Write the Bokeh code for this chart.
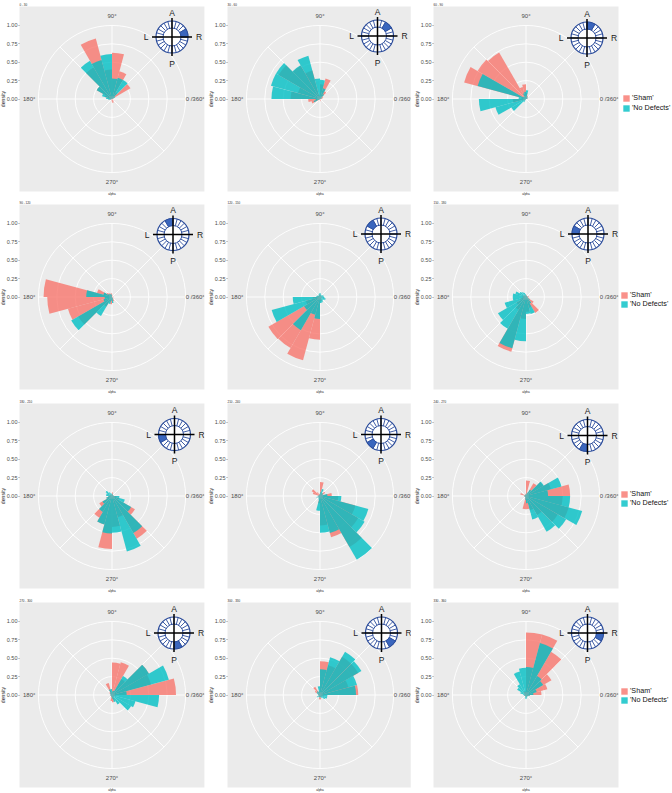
from math import cos, sin, radians
from bokeh.embed import file_html
from bokeh.resources import INLINE
from bokeh.plotting import figure
from bokeh.layouts import column, row
from bokeh.models import ColumnDataSource, FixedTicker, NumeralTickFormatter, Legend, LegendItem
from bokeh.core.properties import value

bin_starts = list(range(0, 360, 15))
panel_titles = ["0 - 30", "30 - 60", "60 - 90", "90 - 120", "120 - 150", "150 - 180",
                "180 - 210", "210 - 240", "240 - 270", "270 - 300", "300 - 330", "330 - 360"]
tick_values = [0.0, 0.25, 0.5, 0.75, 1.0]
angle_labels = ["0 /360°", "90°", "180°", "270°"]
legend_labels = ["'Sham'", "'No Defects'"]

#            0    15   30   45   60   75   90   105  120  135  150  165  180  195  210  225  240  255  270  285  300  315  330  345
sham_01 = [0.02,0.00,0.29,0.10,0.39,0.63,0.40,0.85,0.50,0.24,0.10,0.05,0.03,0.02,0.00,0.00,0.00,0.03,0.05,0.05,0.03,0.00,0.00,0.00]
nodf_01 = [0.00,0.02,0.05,0.30,0.30,0.28,0.61,0.55,0.60,0.24,0.14,0.08,0.05,0.02,0.00,0.00,0.00,0.00,0.00,0.00,0.00,0.00,0.00,0.00]
sham_02 = [0.02,0.04,0.05,0.12,0.29,0.20,0.05,0.40,0.52,0.65,0.31,0.40,0.16,0.12,0.03,0.00,0.00,0.00,0.00,0.03,0.02,0.00,0.00,0.00]
nodf_02 = [0.00,0.02,0.03,0.08,0.15,0.26,0.28,0.61,0.53,0.69,0.69,0.66,0.06,0.09,0.02,0.00,0.00,0.00,0.00,0.00,0.00,0.00,0.00,0.00]
sham_03 = [0.02,0.02,0.02,0.04,0.05,0.08,0.20,0.17,0.73,0.76,0.87,0.06,0.18,0.05,0.03,0.00,0.00,0.00,0.00,0.00,0.00,0.00,0.00,0.00]
nodf_03 = [0.02,0.02,0.02,0.03,0.04,0.12,0.10,0.08,0.04,0.05,0.68,0.10,0.64,0.43,0.23,0.05,0.00,0.00,0.00,0.00,0.00,0.00,0.00,0.00]
sham_04 = [0.02,0.00,0.00,0.00,0.00,0.03,0.05,0.05,0.06,0.08,0.21,0.93,0.88,0.62,0.53,0.15,0.08,0.10,0.05,0.06,0.03,0.00,0.00,0.02]
nodf_04 = [0.00,0.00,0.00,0.00,0.00,0.00,0.03,0.04,0.05,0.06,0.12,0.35,0.10,0.12,0.64,0.30,0.10,0.05,0.08,0.03,0.00,0.00,0.00,0.00]
sham_05 = [0.03,0.02,0.02,0.02,0.02,0.03,0.03,0.03,0.02,0.02,0.03,0.04,0.10,0.20,0.81,0.80,0.89,0.58,0.06,0.05,0.03,0.02,0.02,0.03]
nodf_05 = [0.05,0.05,0.04,0.03,0.03,0.05,0.05,0.04,0.03,0.03,0.04,0.05,0.37,0.68,0.25,0.52,0.25,0.30,0.08,0.08,0.06,0.06,0.08,0.06]
sham_06 = [0.04,0.02,0.02,0.02,0.02,0.03,0.02,0.02,0.03,0.03,0.05,0.05,0.05,0.08,0.15,0.20,0.77,0.30,0.20,0.15,0.25,0.12,0.05,0.03]
nodf_06 = [0.02,0.02,0.02,0.02,0.02,0.02,0.04,0.06,0.08,0.10,0.15,0.18,0.18,0.30,0.44,0.50,0.72,0.60,0.23,0.24,0.10,0.06,0.03,0.02]
sham_07 = [0.02,0.02,0.02,0.02,0.03,0.05,0.02,0.02,0.02,0.03,0.03,0.04,0.05,0.08,0.20,0.34,0.40,0.72,0.42,0.30,0.67,0.36,0.10,0.06]
nodf_07 = [0.02,0.02,0.02,0.02,0.02,0.03,0.03,0.04,0.06,0.10,0.08,0.08,0.05,0.08,0.15,0.25,0.40,0.51,0.50,0.78,0.58,0.30,0.18,0.10]
sham_08 = [0.16,0.05,0.08,0.05,0.03,0.19,0.03,0.03,0.06,0.13,0.10,0.03,0.02,0.02,0.02,0.03,0.03,0.10,0.40,0.58,0.80,0.60,0.50,0.25]
nodf_08 = [0.10,0.03,0.05,0.05,0.10,0.05,0.02,0.02,0.02,0.02,0.02,0.02,0.02,0.05,0.03,0.03,0.05,0.20,0.50,0.52,1.00,0.70,0.68,0.29]
sham_09 = [0.60,0.35,0.27,0.20,0.05,0.21,0.03,0.02,0.02,0.03,0.08,0.02,0.02,0.02,0.02,0.02,0.03,0.18,0.18,0.20,0.30,0.50,0.60,0.50]
nodf_09 = [0.30,0.50,0.28,0.10,0.05,0.02,0.02,0.02,0.02,0.02,0.02,0.02,0.02,0.02,0.02,0.02,0.02,0.05,0.10,0.33,0.56,0.63,0.79,0.60]
sham_10 = [0.87,0.55,0.58,0.25,0.46,0.44,0.04,0.17,0.05,0.04,0.02,0.02,0.02,0.02,0.02,0.02,0.03,0.08,0.10,0.08,0.04,0.03,0.03,0.05]
nodf_10 = [0.20,0.80,0.58,0.30,0.06,0.05,0.08,0.08,0.04,0.03,0.02,0.02,0.02,0.02,0.02,0.02,0.02,0.03,0.05,0.10,0.15,0.30,0.33,0.64]
sham_11 = [0.52,0.40,0.60,0.60,0.42,0.46,0.05,0.05,0.13,0.08,0.03,0.02,0.02,0.02,0.02,0.03,0.03,0.06,0.06,0.03,0.03,0.03,0.04,0.05]
nodf_11 = [0.49,0.52,0.65,0.68,0.53,0.35,0.12,0.05,0.06,0.05,0.03,0.03,0.02,0.02,0.05,0.03,0.03,0.03,0.03,0.03,0.05,0.08,0.10,0.10]
sham_12 = [0.21,0.30,0.40,0.68,0.85,0.85,0.05,0.05,0.05,0.03,0.02,0.02,0.02,0.02,0.02,0.02,0.02,0.03,0.03,0.02,0.02,0.02,0.03,0.05]
nodf_12 = [0.10,0.15,0.27,0.30,0.73,0.38,0.37,0.33,0.17,0.14,0.08,0.04,0.03,0.03,0.02,0.02,0.02,0.05,0.05,0.03,0.03,0.03,0.03,0.05]

sham_all = [sham_01, sham_02, sham_03, sham_04, sham_05, sham_06, sham_07, sham_08, sham_09, sham_10, sham_11, sham_12]
nodf_all = [nodf_01, nodf_02, nodf_03, nodf_04, nodf_05, nodf_06, nodf_07, nodf_08, nodf_09, nodf_10, nodf_11, nodf_12]

PX = 73.6          # screen pixels per density unit
HALF = 92.5 / PX
FRAME = 185
SHAM, NODF = "#F8766D", "#00BFC4"
INK = "#4D4D4D"
FONT = value("Liberation Sans")

compass_dx = [60, 57.5, 61, 61, 61, 62, 62.5, 61, 61.5, 62, 61.5, 61.5]
compass_dy = [62, 63, 61, 62.5, 63, 63, 61.5, 61.5, 60.5, 62, 62, 62]
LEFT, SHIFT = 23, 4
col_right = [4, 2, 54]
row_top = [6, 6, 7, 7]
row_bottom = [7, 7, 6, 7]
legend_y = [79, 81, 81, 83]
legend_x = [4, 2, 2, 2]
legend_gap = [1, 0, 0, 0]


def rose(p, values, color):
    src = ColumnDataSource(dict(
        r=[v for v in values if v > 0],
        a0=[b for b, v in zip(bin_starts, values) if v > 0],
        a1=[b + 15 for b, v in zip(bin_starts, values) if v > 0],
    ))
    return p.wedge(x=0, y=0, radius="r", start_angle="a0", end_angle="a1",
                   start_angle_units="deg", end_angle_units="deg", source=src,
                   fill_color=color, fill_alpha=0.8, line_color=None)


def compass(p, idx, dx, dy):
    cx, cy = dx / PX, dy / PX
    ro, ri = 16 / PX, 9 / PX
    blue = "#2B4C9B"
    p.circle(x=[cx], y=[cy], radius=ro, fill_color="white", line_color=blue, line_width=1.2)
    xs0 = [cx + ri * cos(radians(a)) for a in bin_starts]
    ys0 = [cy + ri * sin(radians(a)) for a in bin_starts]
    xs1 = [cx + ro * cos(radians(a)) for a in bin_starts]
    ys1 = [cy + ro * sin(radians(a)) for a in bin_starts]
    p.segment(xs0, ys0, xs1, ys1, line_color=blue, line_width=0.9)
    p.circle(x=[cx], y=[cy], radius=ri, fill_color="white", line_color=blue, line_width=1.0)
    p.annular_wedge(x=[cx], y=[cy], inner_radius=ri, outer_radius=ro,
                    start_angle=idx * 30, end_angle=(idx + 1) * 30,
                    start_angle_units="deg", end_angle_units="deg",
                    fill_color="#3A66BE", line_color=blue, line_width=0.8)
    p.segment([cx - 20 / PX, cx], [cy, cy - 19 / PX], [cx + 20 / PX, cx], [cy, cy + 19 / PX],
              line_color="black", line_width=1.5)
    p.text(x=[cx, cx, cx - 26 / PX, cx + 27 / PX], y=[cy + 24.5 / PX, cy - 26.5 / PX, cy, cy],
           text=["A", "P", "L", "R"], text_font=FONT, text_font_size="8.5px", text_color="#222222",
           text_align="center", text_baseline="middle")


def panel(idx):
    r_i, c_i = idx // 3, idx % 3
    p = figure(output_backend="svg", toolbar_location=None,
               frame_width=FRAME, frame_height=FRAME,
               x_range=(-HALF, HALF), y_range=(-HALF, HALF),
               min_border_left=LEFT, min_border_right=col_right[c_i],
               min_border_top=row_top[r_i], min_border_bottom=row_bottom[r_i],
               background_fill_color="#EBEBEB", border_fill_color="white",
               outline_line_color=None, title=panel_titles[idx],
               x_axis_label="alpha", y_axis_label="density", margin=(0, 0, 0, -SHIFT))
    p.title.text_font_size = "3px"
    p.title.text_font = "Liberation Sans"
    p.title.text_font_style = "normal"
    p.title.text_color = "#222222"
    p.title.offset = 0
    p.title.standoff = 0
    p.grid.visible = False

    ya = p.yaxis[0]
    ya.ticker = FixedTicker(ticks=tick_values)
    ya.formatter = NumeralTickFormatter(format="0.00")
    ya.axis_line_color = None
    ya.major_tick_line_color = "#333333"
    ya.major_tick_line_width = 0.5
    ya.major_tick_in = 0
    ya.major_tick_out = 1
    ya.minor_tick_line_color = None
    ya.major_label_text_font = "Liberation Sans"
    ya.major_label_text_font_size = "5.5px"
    ya.major_label_text_color = INK
    ya.major_label_standoff = 1
    ya.axis_label_text_font = "Liberation Sans"
    ya.axis_label_text_font_size = "5.2px"
    ya.axis_label_text_font_style = "normal"
    ya.axis_label_text_color = "#222222"
    ya.axis_label_standoff = -2

    xa = p.xaxis[0]
    xa.ticker = FixedTicker(ticks=[])
    xa.axis_line_color = None
    xa.major_tick_line_color = None
    xa.minor_tick_line_color = None
    xa.major_label_text_font_size = "0px"
    xa.major_label_standoff = 0
    xa.axis_label_text_font = "Liberation Sans"
    xa.axis_label_text_font_size = "3px"
    xa.axis_label_text_font_style = "normal"
    xa.axis_label_text_color = "#222222"
    xa.axis_label_standoff = 1

    p.circle(x=[0] * 4, y=[0] * 4, radius=tick_values[1:], fill_color=None, line_color="white", line_width=0.9)
    spokes = list(range(0, 360, 45))
    p.segment([0] * 8, [0] * 8, [cos(radians(a)) for a in spokes], [sin(radians(a)) for a in spokes],
              line_color="white", line_width=0.9)

    r1 = rose(p, sham_all[idx], SHAM)
    r2 = rose(p, nodf_all[idx], NODF)

    p.text(x=[1.13, 0, -1.125, 0], y=[0, 1.125, 0, -1.125], text=angle_labels,
           text_font=FONT, text_font_size="6px", text_color=INK,
           text_align="center", text_baseline="middle")
    compass(p, idx, compass_dx[idx], compass_dy[idx])

    if c_i == 2:
        lg = Legend(items=[LegendItem(label=legend_labels[0], renderers=[r1]),
                           LegendItem(label=legend_labels[1], renderers=[r2])],
                    location=(legend_x[r_i], legend_y[r_i]), orientation="vertical",
                    border_line_color=None, background_fill_alpha=0, padding=0, margin=0,
                    glyph_width=8, glyph_height=8, label_height=8, label_standoff=2,
                    spacing=legend_gap[r_i],
                    label_text_font="Liberation Sans", label_text_font_size="7.2px",
                    label_text_color="#111111")
        p.add_layout(lg, "right")
    return p


panels = [panel(i) for i in range(12)]
page = column(*[row(*panels[i:i + 3], spacing=0) for i in range(0, 12, 3)], spacing=0)
open("out.html", "w").write(file_html(page, INLINE))
